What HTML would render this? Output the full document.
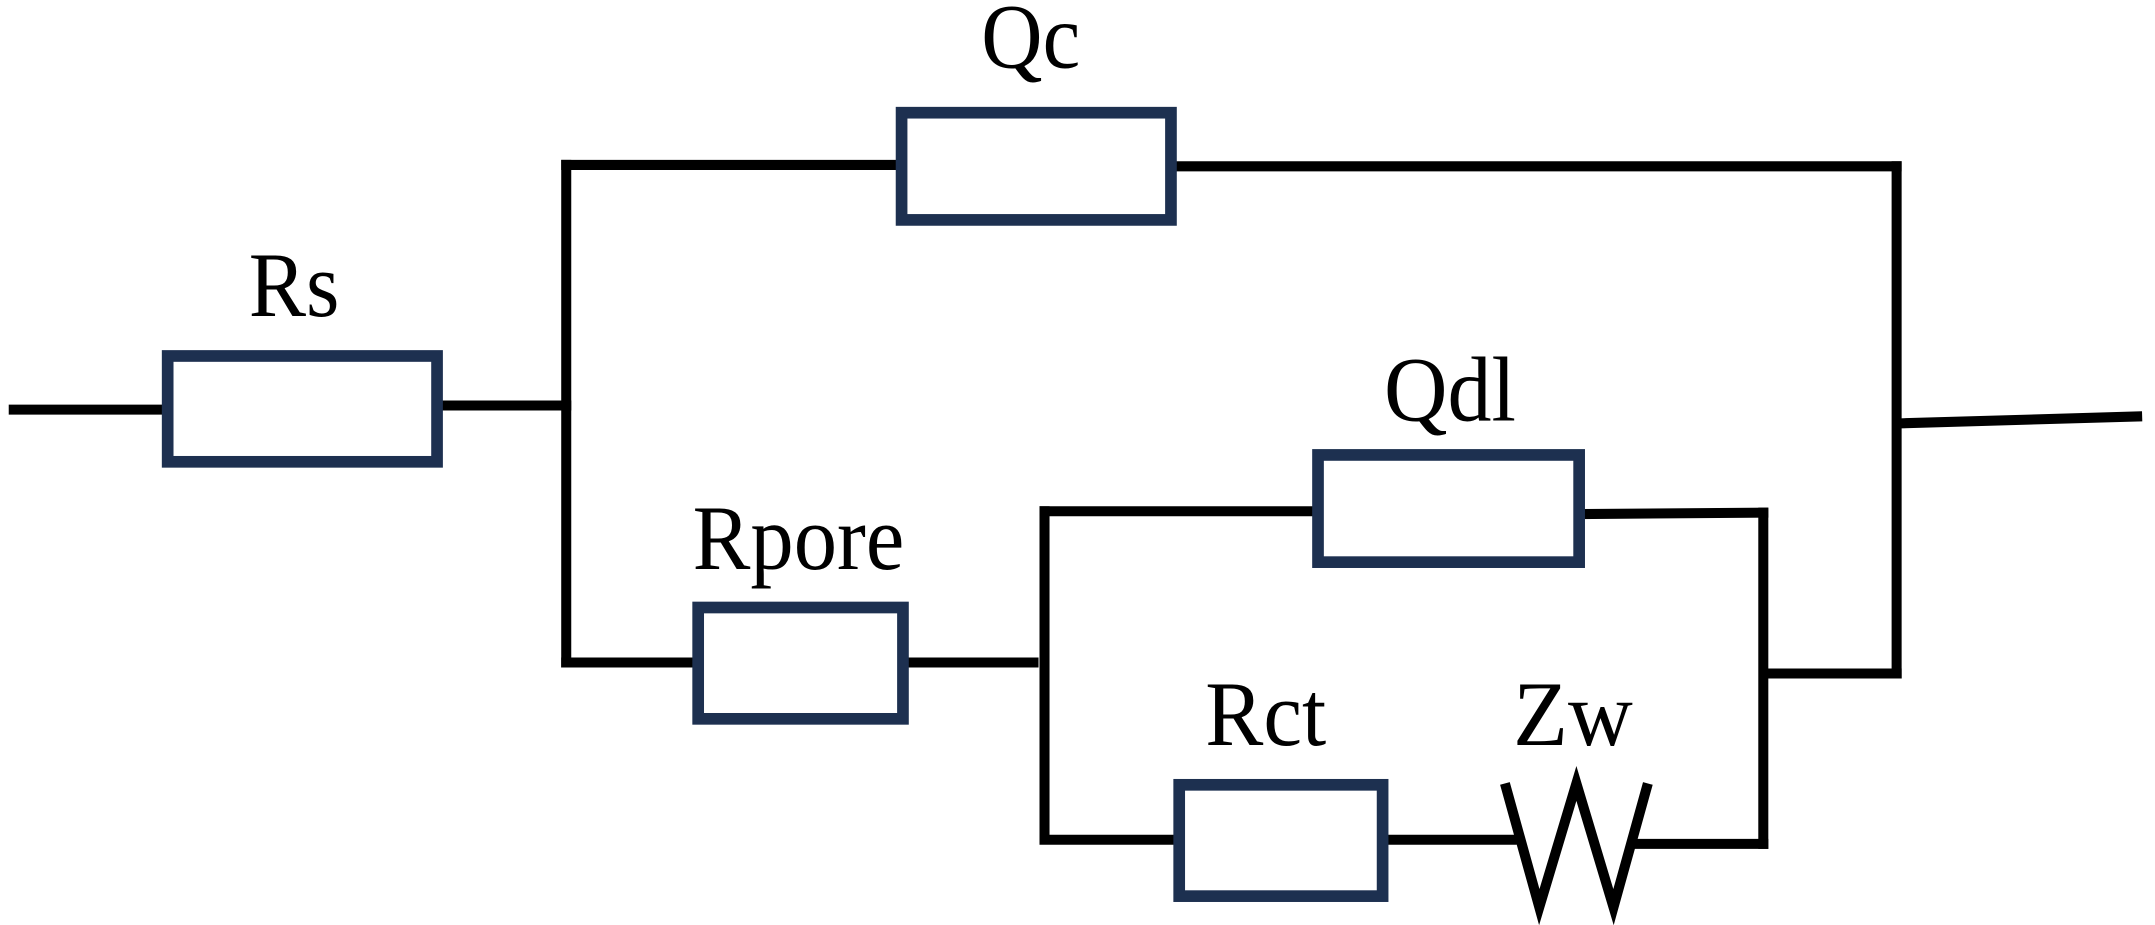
<!DOCTYPE html>
<html><head><meta charset="utf-8"><style>
html,body{margin:0;padding:0;background:#fff;width:2155px;height:925px;overflow:hidden}
svg{display:block}
text{font-family:"Liberation Serif",serif;font-size:67px;fill:#000}
</style></head><body>
<svg width="2155" height="925" viewBox="0 0 1568 673" preserveAspectRatio="none" xmlns="http://www.w3.org/2000/svg">
<g stroke="#000" stroke-width="7.3" fill="none" stroke-linecap="square">
<line x1="10" y1="298" x2="120" y2="298"/>
<line x1="320" y1="295" x2="412" y2="295"/>
<line x1="412" y1="120" x2="412" y2="482"/>
<line x1="412" y1="120" x2="655" y2="120"/>
<line x1="853" y1="121" x2="1380" y2="121"/>
<line x1="1380" y1="121" x2="1380" y2="490"/>
<line x1="1383" y1="308" x2="1555" y2="303"/>
<line x1="412" y1="482" x2="505" y2="482"/>
<line x1="658" y1="482" x2="752" y2="482"/>
<line x1="760" y1="372" x2="760" y2="610"/>
<line x1="760" y1="372" x2="958" y2="372"/>
<line x1="1152" y1="374" x2="1283" y2="373"/>
<line x1="1283" y1="373" x2="1283" y2="614"/>
<line x1="1285" y1="490" x2="1380" y2="490"/>
<line x1="760" y1="611" x2="855" y2="611"/>
<line x1="1007" y1="611" x2="1100" y2="611"/>
<line x1="1190" y1="614" x2="1283" y2="614"/>
<polyline points="1095,570 1120,660 1147,570 1174,660 1199,570" stroke-width="7.3" stroke-linecap="butt" stroke-linejoin="miter"/>
</g>
<g stroke="#1d3050" stroke-width="8.5" fill="#fff">
<rect x="122" y="259" width="196" height="77"/>
<rect x="656" y="82" width="196" height="78"/>
<rect x="508" y="442" width="149" height="81"/>
<rect x="959" y="331" width="190" height="78"/>
<rect x="858" y="571" width="148" height="81"/>
</g>
<text x="181" y="230" textLength="66" lengthAdjust="spacingAndGlyphs">Rs</text>
<text x="714" y="49" textLength="72" lengthAdjust="spacingAndGlyphs">Qc</text>
<text x="1007" y="306" textLength="96" lengthAdjust="spacingAndGlyphs">Qdl</text>
<text x="504" y="414" textLength="154" lengthAdjust="spacingAndGlyphs">Rpore</text>
<text x="877" y="542" textLength="88" lengthAdjust="spacingAndGlyphs">Rct</text>
<text x="1101" y="542" textLength="87" lengthAdjust="spacingAndGlyphs">Zw</text>
</svg>
</body></html>
